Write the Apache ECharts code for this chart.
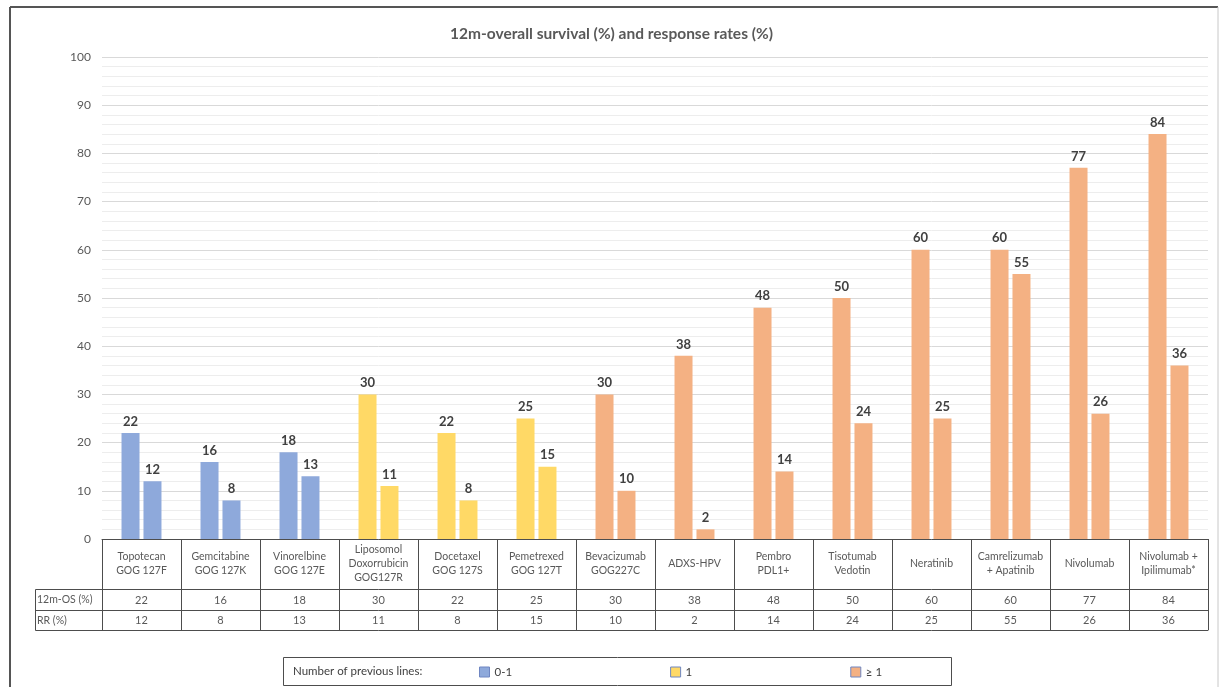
<!DOCTYPE html>
<html>
<head>
<meta charset="utf-8">
<title>12m-overall survival and response rates</title>
<script src="https://cdn.jsdelivr.net/npm/echarts@6/dist/echarts.min.js"></script>
<style>
    html, body { margin: 0; padding: 0; background: #fff; }
    #chart { width: 1223px; height: 687px; }
</style>
</head>
<body>
<div id="chart"></div>
<script>
var categories = [
    'Topotecan\nGOG 127F', 'Gemcitabine\nGOG 127K', 'Vinorelbine\nGOG 127E',
    'Liposomol\nDoxorrubicin\nGOG127R', 'Docetaxel\nGOG 127S', 'Pemetrexed\nGOG 127T',
    'Bevacizumab\nGOG227C', 'ADXS-HPV', 'Pembro\nPDL1+', 'Tisotumab\nVedotin',
    'Neratinib', 'Camrelizumab\n+ Apatinib', 'Nivolumab', 'Nivolumab +\nIpilimumab*'
];
var osValues = [22, 16, 18, 30, 22, 25, 30, 38, 48, 50, 60, 60, 77, 84];
var rrValues = [12, 8, 13, 11, 8, 15, 10, 2, 14, 24, 25, 55, 26, 36];
// index into groupNames for each category
var priorLines = [0, 0, 0, 1, 1, 1, 2, 2, 2, 2, 2, 2, 2, 2];
var groupNames = ['0-1', '1', '\u2265 1'];
var groupColors = ['#8EA9DB', '#FFD966', '#F4B183'];
var rowNames = ['12m-OS (%)', 'RR (%)'];

var FONT = 'Lato, "Noto Sans", sans-serif';
var LINE = '#4d4d4d';
var TXT = '#595959';

function coloured(values) {
    return values.map(function (v, i) {
        return { value: v, itemStyle: { color: groupColors[priorLines[i]] } };
    });
}

// table rows under the plot are drawn as extra x axes
function tableAxis(offset, values, margin) {
    return {
        type: 'category',
        data: categories,
        position: 'bottom',
        offset: offset,
        axisLine: { show: true, lineStyle: { color: LINE, width: 1 } },
        axisTick: { show: false },
        splitLine: { show: false },
        axisLabel: {
            show: !!values,
            interval: 0,
            margin: margin || 0,
            verticalAlign: 'middle',
            color: TXT,
            fontSize: 11,
            fontFamily: FONT,
            formatter: function (v, i) { return values ? String(values[i]) : ''; }
        }
    };
}

var chart = echarts.init(document.getElementById('chart'));

var barLabel = {
    show: true,
    position: 'top',
    distance: 5,
    color: '#404040',
    fontWeight: 'bold',
    fontSize: 13,
    fontFamily: FONT
};

var series = [
    {
        name: rowNames[0], type: 'bar', barWidth: 18, barGap: '22%',
        data: coloured(osValues), label: barLabel
    },
    {
        name: rowNames[1], type: 'bar', barWidth: 18, barGap: '22%',
        data: coloured(rrValues), label: barLabel
    }
];
// empty series, only for the legend swatches
groupNames.forEach(function (g, k) {
    series.push({ name: g, type: 'line', data: [], itemStyle: { color: groupColors[k] } });
});

var option = {
    backgroundColor: '#fff',
    animation: false,
    title: {
        text: '12m-overall survival (%) and response rates (%)',
        left: 'center',
        top: 21,
        textStyle: { fontSize: 15.5, fontWeight: 'bold', color: TXT, fontFamily: FONT }
    },
    grid: { left: 102, right: 15, top: 57, bottom: 148 },
    legend: {
        left: 479,
        top: 666,
        padding: 0,
        icon: 'rect',
        itemWidth: 10,
        itemHeight: 10,
        itemGap: 158,
        selectedMode: false,
        textStyle: { fontSize: 11.5, color: '#404040', fontFamily: FONT },
        data: groupNames.map(function (g, k) {
            return { name: g, itemStyle: { color: groupColors[k], borderColor: '#6f86c2', borderWidth: 1 } };
        })
    },
    xAxis: [
        {
            type: 'category',
            data: categories,
            position: 'bottom',
            axisLine: { show: true, lineStyle: { color: LINE, width: 1 } },
            axisTick: { show: true, length: 91, interval: 0, lineStyle: { color: LINE, width: 1 } },
            axisLabel: {
                interval: 0,
                margin: 25,
                verticalAlign: 'middle',
                color: TXT,
                fontSize: 10.5,
                lineHeight: 14,
                fontFamily: FONT
            }
        },
        tableAxis(50, osValues, 11),
        tableAxis(71, rrValues, 10),
        tableAxis(91, null, 0)
    ],
    yAxis: {
        type: 'value',
        min: 0,
        max: 100,
        interval: 10,
        axisLine: { show: false },
        axisTick: { show: false },
        axisLabel: { color: TXT, fontSize: 12, margin: 11, fontFamily: FONT },
        splitLine: { lineStyle: { color: '#d9d9d9' } },
        minorTick: { show: false, splitNumber: 5 },
        minorSplitLine: { show: true, lineStyle: { color: '#ededed' } }
    },
    graphic: [
        // outer frame
        { type: 'line', shape: { x1: 10, y1: 7, x2: 1218, y2: 7 }, style: { stroke: '#555', lineWidth: 2 } },
        { type: 'line', shape: { x1: 10, y1: 7, x2: 10, y2: 687 }, style: { stroke: '#555', lineWidth: 2 } },
        { type: 'line', shape: { x1: 1218, y1: 7, x2: 1218, y2: 687 }, style: { stroke: '#c8c8c8', lineWidth: 1 } },
        // row header cells of the table
        { type: 'rect', shape: { x: 35.5, y: 589.5, width: 67, height: 41 }, style: { fill: null, stroke: LINE, lineWidth: 1 } },
        { type: 'line', shape: { x1: 35.5, y1: 610.5, x2: 102.5, y2: 610.5 }, style: { stroke: LINE, lineWidth: 1 } },
        { type: 'text', x: 37, y: 600, style: { text: rowNames[0], fill: TXT, font: '10.5px ' + FONT, verticalAlign: 'middle' } },
        { type: 'text', x: 37, y: 620.5, style: { text: rowNames[1], fill: TXT, font: '10.5px ' + FONT, verticalAlign: 'middle' } },
        // legend box
        { type: 'rect', shape: { x: 283.5, y: 657.5, width: 668, height: 28 }, style: { fill: null, stroke: LINE, lineWidth: 1 } },
        { type: 'text', x: 293, y: 671, style: { text: 'Number of previous lines:', fill: '#404040', font: '11.5px ' + FONT, verticalAlign: 'middle' } }
    ],
    series: series
};

chart.setOption(option);
</script>
</body>
</html>
